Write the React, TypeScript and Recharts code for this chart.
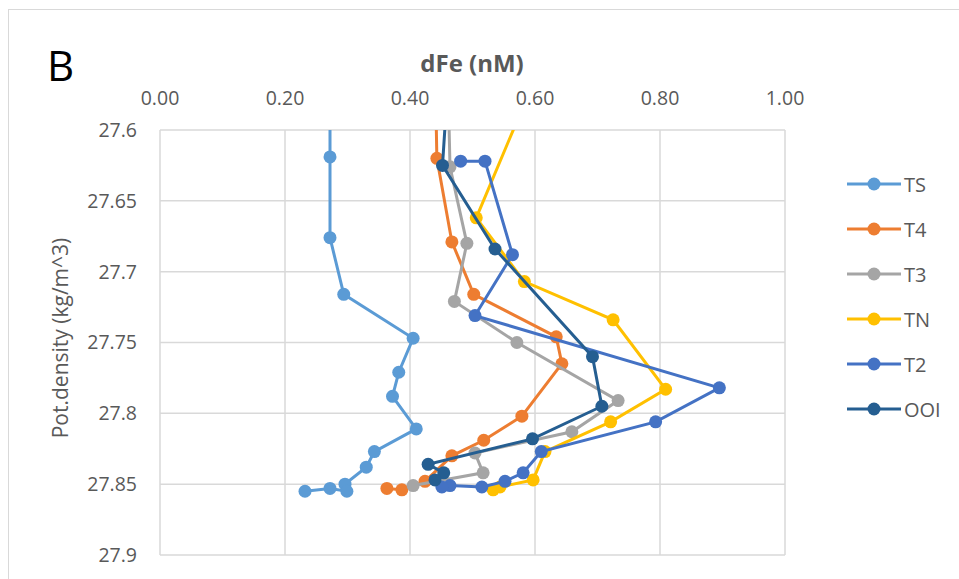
import { ScatterChart, Scatter, XAxis, YAxis, CartesianGrid } from "recharts";

// dFe (nM) and potential density (kg/m^3) for each station profile
const tsFe = [0.272, 0.272, 0.272, 0.294, 0.405, 0.382, 0.372, 0.41, 0.343, 0.33, 0.296, 0.299, 0.272, 0.232];
const tsDensity = [27.55, 27.619, 27.676, 27.716, 27.747, 27.771, 27.788, 27.811, 27.827, 27.838, 27.85, 27.855, 27.853, 27.855];

const t4Fe = [0.44, 0.443, 0.467, 0.502, 0.634, 0.643, 0.579, 0.518, 0.467, 0.424, 0.387, 0.363];
const t4Density = [27.55, 27.62, 27.679, 27.716, 27.746, 27.765, 27.802, 27.819, 27.83, 27.848, 27.854, 27.853];

const t3Fe = [0.46, 0.464, 0.491, 0.471, 0.571, 0.733, 0.659, 0.504, 0.517, 0.405];
const t3Density = [27.55, 27.626, 27.68, 27.721, 27.75, 27.791, 27.813, 27.828, 27.842, 27.851];

const tnFe = [0.613, 0.506, 0.583, 0.725, 0.809, 0.721, 0.616, 0.597, 0.544, 0.533];
const tnDensity = [27.55, 27.662, 27.707, 27.734, 27.783, 27.806, 27.827, 27.847, 27.852, 27.854];

const t2Fe = [0.481, 0.52, 0.564, 0.504, 0.895, 0.793, 0.61, 0.581, 0.552, 0.515, 0.464, 0.451];
const t2Density = [27.622, 27.622, 27.688, 27.731, 27.782, 27.806, 27.827, 27.842, 27.848, 27.852, 27.851, 27.852];

const ooiFe = [0.463, 0.452, 0.536, 0.692, 0.707, 0.596, 0.429, 0.454, 0.44];
const ooiDensity = [27.55, 27.625, 27.684, 27.76, 27.795, 27.818, 27.836, 27.842, 27.847];

const feTicks = [0, 0.2, 0.4, 0.6, 0.8, 1.0];
const densityTicks = [27.6, 27.65, 27.7, 27.75, 27.8, 27.85, 27.9];

const toPoints = (fe: number[], density: number[]) =>
  fe.map((x, i) => ({ x, y: density[i] }));

const series = [
  { name: "TS", color: "#5B9BD5", data: toPoints(tsFe, tsDensity) },
  { name: "T4", color: "#ED7D31", data: toPoints(t4Fe, t4Density) },
  { name: "T3", color: "#A5A5A5", data: toPoints(t3Fe, t3Density) },
  { name: "TN", color: "#FFC000", data: toPoints(tnFe, tnDensity) },
  { name: "T2", color: "#4472C4", data: toPoints(t2Fe, t2Density) },
  { name: "OOI", color: "#255E91", data: toPoints(ooiFe, ooiDensity) },
];

const textGray = "#595959";

const Dot = (props: any) => <circle cx={props.cx} cy={props.cy} r={6.5} fill={props.fill} />;

const App = () => {
  return (
    <div
      style={{
        position: "absolute",
        left: 0,
        top: 0,
        width: 959,
        height: 579,
        overflow: "hidden",
        background: "#fff",
        fontFamily: "'Open Sans', sans-serif",
      }}
    >
      <div
        style={{
          position: "absolute",
          left: 8,
          top: 9,
          width: 980,
          height: 600,
          border: "1.5px solid #d9d9d9",
        }}
      />
      <div style={{ position: "absolute", left: 47, top: 36, fontSize: 42, color: "#000" }}>B</div>
      <div
        style={{
          position: "absolute",
          left: 472,
          top: 62,
          transform: "translate(-50%, -50%)",
          fontSize: 24,
          fontWeight: 700,
          color: textGray,
          whiteSpace: "nowrap",
        }}
      >
        dFe (nM)
      </div>
      <div
        style={{
          position: "absolute",
          left: 60,
          top: 338,
          transform: "translate(-50%, -50%) rotate(-90deg)",
          fontSize: 21,
          color: textGray,
          whiteSpace: "nowrap",
        }}
      >
        Pot.density (kg/m^3)
      </div>
      <div style={{ position: "absolute", left: 846, top: 161.5 }}>
        {series.map((s) => (
          <div key={s.name} style={{ display: "flex", alignItems: "center", height: 45 }}>
            <svg width={56} height={16}>
              <line x1={1} y1={8} x2={55} y2={8} stroke={s.color} strokeWidth={3} />
              <circle cx={28} cy={8} r={6.5} fill={s.color} />
            </svg>
            <span style={{ fontSize: 20, color: textGray, marginLeft: 2 }}>{s.name}</span>
          </div>
        ))}
      </div>
      <ScatterChart
        width={959}
        height={579}
        margin={{ top: 60, right: 174, bottom: 24, left: 20 }}
        style={{ position: "absolute", left: 0, top: 0 }}
      >
        <CartesianGrid stroke="#d9d9d9" strokeWidth={1.5} />
        <XAxis
          dataKey="x"
          type="number"
          orientation="top"
          domain={[0, 1]}
          ticks={feTicks}
          allowDataOverflow
          height={70}
          axisLine={false}
          tickLine={false}
          tickMargin={19}
          tickFormatter={(v: number) => v.toFixed(2)}
          tick={{ fill: textGray, fontSize: 19.5 }}
        />
        <YAxis
          dataKey="y"
          type="number"
          domain={[27.6, 27.9]}
          ticks={densityTicks}
          reversed
          allowDataOverflow
          width={140}
          axisLine={false}
          tickLine={false}
          tickMargin={17}
          tickFormatter={(v: number) => String(Number(v.toFixed(2)))}
          tick={{ fill: textGray, fontSize: 19.5 }}
        />
        {series.map((s) => (
          <Scatter
            key={s.name}
            name={s.name}
            data={s.data}
            fill={s.color}
            line={{ strokeWidth: 3 }}
            lineType="joint"
            shape={Dot}
            isAnimationActive={false}
          />
        ))}
      </ScatterChart>
    </div>
  );
};

export default App;
